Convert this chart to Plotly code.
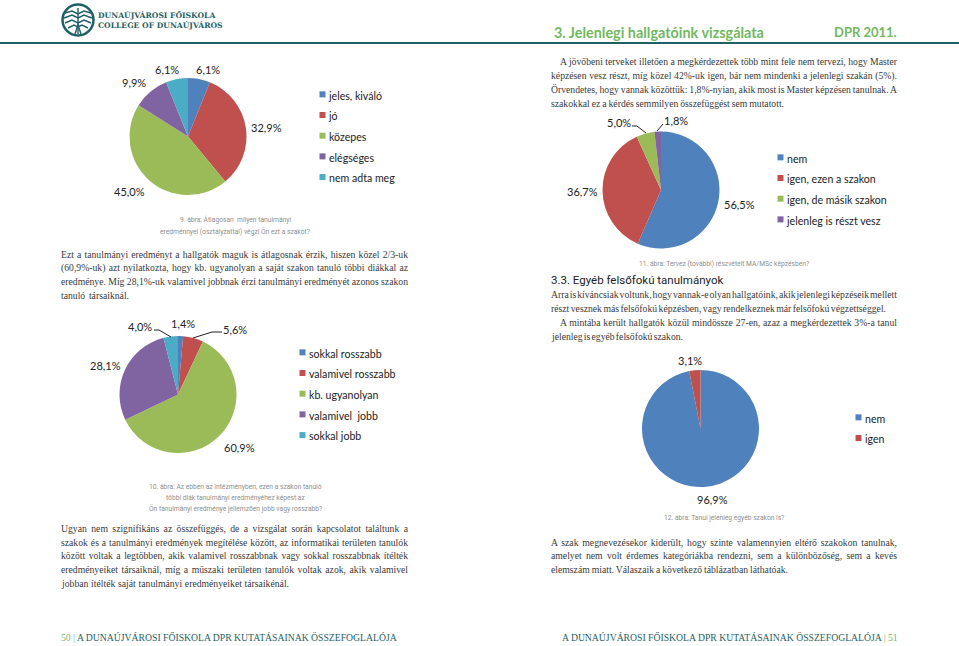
import plotly.graph_objects as go

W, H = 959, 646
COLORS = ["#4F81BD", "#C0504D", "#9BBB59", "#8064A2", "#4BACC6"]
TEAL = "#1F5F66"
GREEN = "#72B85F"
INK = "#3a3a3a"
SERIF = "Liberation Serif"
SANS = "Lato"
CAP = "Roboto"

grades = ["jeles, kiváló", "jó", "közepes", "elégséges", "nem adta meg"]
grades_values = [6.1, 32.9, 45.0, 9.9, 6.1]
master = ["nem", "igen, ezen a szakon", "igen, de másik szakon", "jelenleg is részt vesz"]
master_values = [56.5, 36.7, 5.0, 1.8]
compare = ["sokkal rosszabb", "valamivel rosszabb", "kb. ugyanolyan", "valamivel  jobb", "sokkal jobb"]
compare_values = [1.4, 5.6, 60.9, 28.1, 4.0]
other = ["nem ", "igen"]
other_values = [96.9, 3.1]


def px(x):
    return x / W


def py(y):
    return 1 - y / H


def pct(v):
    return f"{v:.1f}".replace(".", ",") + "%"


fig = go.Figure()
pies = [
    (grades, grades_values, 188, 136.5, "legend", 289, 79),
    (master, master_values, 661, 190, "legend2", 747, 142),
    (compare, compare_values, 178, 394.5, "legend3", 269, 337),
    (other, other_values, 700.5, 428.5, "legend4", 825, 402),
]
R = 58.5
layout_legends = {}
for labels, vals, cx, cy, lg, lx, ly in pies:
    fig.add_trace(go.Pie(
        labels=labels, values=vals, sort=False, direction="clockwise", rotation=0,
        textinfo="none", hoverinfo="label+percent",
        marker=dict(colors=COLORS[:len(vals)], line=dict(width=0)),
        domain=dict(x=[px(cx - R), px(cx + R)], y=[py(cy + R), py(cy - R)]),
        legend=lg, showlegend=True,
    ))
    layout_legends[lg] = dict(
        x=px(lx), y=py(ly), xanchor="left", yanchor="top",
        bgcolor="rgba(0,0,0,0)", traceorder="normal",
        font=dict(family=SANS, size=13.6, color="#222"),
    )

ann = []
justify = {}


def text(x, y, s, size, color=INK, family=SERIF, anchor="left", width=None):
    if width is not None:
        justify[len(ann)] = width
    ann.append(dict(x=px(x), y=py(y), xref="paper", yref="paper", text=s, showarrow=False,
                    xanchor=anchor, yanchor="middle", align=anchor,
                    borderpad=0, borderwidth=0,
                    font=dict(family=family, size=size, color=color)))


# value labels
label_pos = [
    (grades_values, [(208, 69), (266, 127), (129, 191), (134, 82), (167, 69)]),
    (master_values, [(739, 204), (582, 191), (619, 123), (676, 121)]),
    (compare_values, [(183, 323), (235, 329), (239, 447), (105, 365), (140, 326)]),
    (other_values, [(712, 499), (690, 360)]),
]
for vals, pts in label_pos:
    for v, (x, y) in zip(vals, pts):
        text(x, y, pct(v), 11, "#222", SANS, "center")

# header and footer
text(554, 32, "<b>3. Jelenlegi hallgatóink vizsgálata</b>", 14.4, GREEN, SANS)
text(834, 32, "<b>DPR 2011.</b>", 13, GREEN, SANS)
text(98, 15, "<b>DUNAÚJVÁROSI FŐISKOLA</b>", 7.6, TEAL, "DejaVu Serif")
text(98, 25, "<b>COLLEGE OF DUNAÚJVÁROS</b>", 7.6, TEAL, "DejaVu Serif")
text(61, 637, f"<span style='color:{GREEN}'>50 | </span>A DUNAÚJVÁROSI FŐISKOLA DPR KUTATÁSAINAK ÖSSZEFOGLALÓJA", 9.7, TEAL)
text(562, 637, f"A DUNAÚJVÁROSI FŐISKOLA DPR KUTATÁSAINAK ÖSSZEFOGLALÓJA<span style='color:{GREEN}'> | 51</span>", 9.7, TEAL)
text(551, 280, "3.3. Egyéb felsőfokú tanulmányok", 11.5, "#222", CAP)

# captions
for x, y, s in [
    (235, 220, "9. ábra: Átlagosan  milyen tanulmányi"),
    (235, 231, "eredménnyel (osztályzattal) végzi Ön ezt a szakot?"),
    (235, 487, "10. ábra: Az ebben az intézményben, ezen a szakon tanuló"),
    (235, 497.5, "többi diák tanulmányi eredményéhez képest az"),
    (235, 508, "Ön tanulmányi eredménye jellemzően jobb vagy rosszabb?"),
    (724, 264, "11. ábra: Tervez (további) részvételt MA/MSc képzésben?"),
    (724, 518, "12. ábra: Tanul jelenleg egyéb szakon is?"),
]:
    text(x, y, s, 6.7, "#8f8f8f", CAP, "center")

# body text: (x, y, line, right edge)
BODY = 9.7
lines = [
    (560, 61.5, "A jövőbeni terveket illetően a megkérdezettek több mint fele nem tervezi, hogy Master", 897),
    (551, 75.5, "képzésen vesz részt, míg közel 42%-uk igen, bár nem mindenki a jelenlegi szakán (5%).", 897),
    (551, 89.5, "Örvendetes, hogy vannak közöttük: 1,8%-nyian, akik most is Master képzésen tanulnak. A", 897),
    (551, 103, "szakokkal ez a kérdés semmilyen összefüggést sem mutatott.", 784),
    (61, 254, "Ezt a tanulmányi eredményt a hallgatók maguk is átlagosnak érzik, hiszen közel 2/3-uk", 408),
    (61, 268, "(60,9%-uk) azt nyilatkozta, hogy kb. ugyanolyan a saját szakon tanuló többi diákkal az", 408),
    (61, 281.5, "eredménye. Míg 28,1%-uk valamivel jobbnak érzi tanulmányi eredményét azonos szakon", 408),
    (61, 295.5, "tanuló társaiknál.", 129),
    (551, 294.5, "Arra is kíváncsiak voltunk, hogy vannak-e olyan hallgatóink, akik jelenlegi képzéseik mellett", 897),
    (551, 308.5, "részt vesznek más felsőfokú képzésben, vagy rendelkeznek már felsőfokú végzettséggel.", 886),
    (560, 322, "A mintába került hallgatók közül mindössze 27-en, azaz a megkérdezettek 3%-a tanul", 897),
    (551, 336, "jelenleg is egyéb felsőfokú szakon.", 682),
    (61, 528, "Ugyan nem szignifikáns az összefüggés, de a vizsgálat során kapcsolatot találtunk a", 408),
    (61, 542, "szakok és a tanulmányi eredmények megítélése között, az informatikai területen tanulók", 408),
    (61, 555.5, "között voltak a legtöbben, akik valamivel rosszabbnak vagy sokkal rosszabbnak ítélték", 408),
    (61, 569.5, "eredményeiket társaiknál, míg a műszaki területen tanulók voltak azok, akik valamivel", 408),
    (61, 583, "jobban ítélték saját tanulmányi eredményeiket társaikénál.", 288),
    (551, 542, "A szak megnevezésekor kiderült, hogy szinte valamennyien eltérő szakokon tanulnak,", 897),
    (551, 555.5, "amelyet nem volt érdemes kategóriákba rendezni, sem a különbözőség, sem a kevés", 897),
    (551, 569, "elemszám miatt. Válaszaik a következő táblázatban láthatóak.", 788),
]
for x, y, s, right in lines:
    text(x, y, s, BODY, INK, SERIF, "left", right - x)

# shapes: header rule, leader lines, logo
shapes = [dict(type="line", xref="paper", yref="paper", x0=0, x1=1, y0=py(43), y1=py(43),
               line=dict(color=TEAL, width=2))]
for pts in [
    [(632, 126), (637, 126), (646, 133)],
    [(657, 131), (663, 124)],
    [(154, 330), (159, 330), (171, 337)],
    [(222, 332), (212, 332), (193, 338)],
]:
    path = "M" + " L".join(f"{px(x)},{py(y)}" for x, y in pts)
    shapes.append(dict(type="path", xref="paper", yref="paper", path=path,
                       line=dict(color="#222", width=1)))
lx, ly, lr = 78, 20, 15.5
shapes.append(dict(type="circle", xref="paper", yref="paper", x0=px(lx - lr), x1=px(lx + lr),
                   y0=py(ly + lr), y1=py(ly - lr), line=dict(color=TEAL, width=2.5),
                   fillcolor="white"))
for pts in [
    [(65, 13), (72, 11), (78, 14), (84, 11), (91, 13)],
    [(64, 18), (72, 15), (78, 18), (84, 15), (92, 18)],
    [(65, 23), (72, 20), (78, 23), (84, 20), (91, 23)],
    [(68, 28), (74, 25), (78, 27), (82, 25), (88, 28)],
    [(78, 8), (78, 34)],
    [(75, 34), (78, 25), (81, 34)],
]:
    path = "M" + " L".join(f"{px(x)},{py(y)}" for x, y in pts)
    shapes.append(dict(type="path", xref="paper", yref="paper", path=path,
                       line=dict(color=TEAL, width=1.4)))

fig.update_layout(
    width=W, height=H, margin=dict(l=0, r=0, t=0, b=0),
    paper_bgcolor="white", plot_bgcolor="white",
    annotations=ann, shapes=shapes, **layout_legends,
)

js_widths = "{" + ",".join(f"{k}:{v}" for k, v in justify.items()) + "}"
post = """
document.body.style.margin = '0';
var css = document.createElement('style');
css.textContent = '.legendtext,.legend2text,.legend3text,.legend4text{font-size:10.6px !important}';
document.head.appendChild(css);
var widths = %s;
function finish() {
  document.querySelectorAll('.annotation').forEach(function (a) {
    var i = a.getAttribute('data-index');
    if (!(i in widths)) return;
    var t = a.querySelector('text');
    t.style.wordSpacing = '0px';
    var gaps = (t.textContent.match(/ /g) || []).length;
    if (gaps) t.style.wordSpacing = ((widths[i] - t.getComputedTextLength()) / gaps) + 'px';
  });
  document.querySelectorAll('.legendsymbols').forEach(function (g) {
    g.setAttribute('transform', 'translate(23.5,0) scale(0.5)');
  });
}
finish();
""" % js_widths

fig.write_html("out.html", post_script=post, config={"displayModeBar": False, "responsive": False})
